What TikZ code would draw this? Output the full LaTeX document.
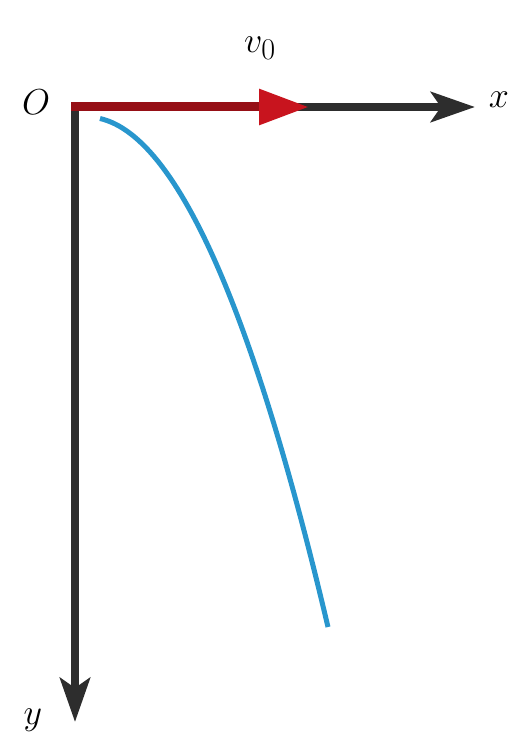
\documentclass[tikz,border=0pt]{standalone}
\usetikzlibrary{arrows.meta}
\definecolor{axisgray}{RGB}{45,45,45}
\definecolor{velred}{RGB}{200,20,30}
\definecolor{pathblue}{RGB}{40,150,205}
\begin{document}
\begin{tikzpicture}[x=1pt,y=-1pt,
  axis/.style={draw=axisgray,line width=8pt,-{Stealth[length=44pt,width=30pt,inset=10pt]}},
  vel/.style={draw=velred!75!black,line width=9pt,-{Triangle[length=50pt,width=34pt,fill=velred,color=velred]}},
  lbl/.style={font=\Huge,inner sep=0pt,scale=1.45,transform shape}]
\useasboundingbox (0,0) rectangle (514,743);
\coordinate (O) at (75,107);
\coordinate (X) at (475,107);
\coordinate (Y) at (75,722);
\coordinate (V) at (309,107);
\draw[axis] ([xshift=-4pt]O) -- (X);
\draw[axis] ([yshift=-4pt]O) -- (Y);
\draw[vel] ([xshift=-4pt]O) -- (V);
\draw[pathblue,line width=5pt] plot[domain=100:328,samples=60] (\x,{117+0.008776*(\x-86.9)*(\x-86.9)});
\node[lbl] (lO) at (36,102) {$O$};
\node[lbl] (lx) at (499,100) {$x$};
\node[lbl] (ly) at (33,720) {$y$};
\node[lbl] (lv) at (260,48) {$v_0$};
\end{tikzpicture}
\end{document}
